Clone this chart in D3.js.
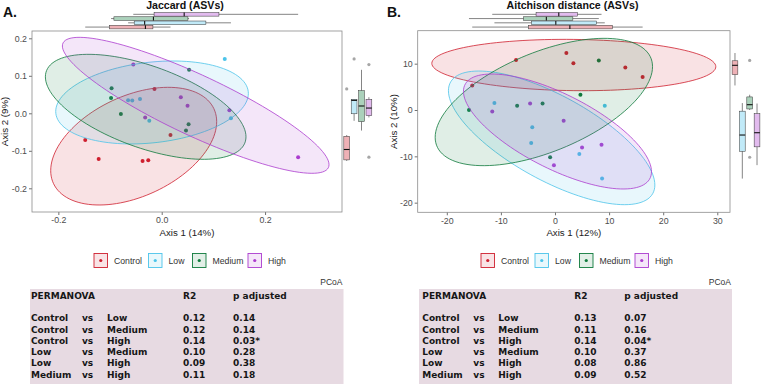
<!DOCTYPE html>
<html lang="en">
<head>
<meta charset="utf-8">
<script src="https://d3js.org/d3.v7.min.js"></script>
<style>
  body { margin: 0; background: #fff; }
  svg text { font-family: "Liberation Sans", Arial, sans-serif; }
  svg text.tbl { font-family: "DejaVu Sans", Verdana, sans-serif; font-weight: bold; }
</style>
</head>
<body>
<script>
const W = 762, H = 384;

// groups and colours
const groups = ["Control", "Low", "Medium", "High"];
const groupColors = ["#cf1f2f", "#4cc4ea", "#0f7a3c", "#ac3ccf"];

// Jaccard PCoA scores (Axis 1, Axis 2)
const jacGroup = ["Control","Control","Control","Control","Control","Control",
                  "Low","Low","Low","Low","Low","Low",
                  "Medium","Medium","Medium","Medium","Medium","Medium",
                  "High","High","High","High","High","High"];
const jacAxis1 = [-0.148, -0.122, -0.037, -0.026, -0.014, 0.017,
                   0.122, -0.065, -0.057, -0.042, -0.024, 0.134,
                  -0.097, -0.098, -0.079, 0.053, 0.052, 0.047,
                  -0.055, 0.037, 0.050, -0.032, 0.131, 0.264];
const jacAxis2 = [-0.071, -0.122, -0.127, -0.125, 0.065, -0.058,
                   0.145, 0.035, 0.034, 0.038, -0.020, -0.013,
                   0.067, 0.041, -0.002, 0.116, -0.029, -0.046,
                   0.130, 0.043, 0.020, -0.011, 0.008, -0.117];
// ellipses: centre, first and second conjugate half-axis (data units)
const jacEllipses = [
  [-0.0542, -0.0876, 0.1606,  0.0653, 0, -0.1427],
  [-0.0187,  0.0289, 0.1864,  0.0240, 0,  0.1080],
  [-0.0310,  0.0173, 0.1941, -0.0800, 0,  0.1149],
  [ 0.0658,  0.0213, 0.2580, -0.1582, 0,  0.0886]
];

// Aitchison PCoA scores
const aitGroup = jacGroup.slice();
const aitAxis1 = [-7.2, 2.1, 3.4, 13.0, 16.2, -15.3,
                  -11.2, -4.2, -4.4, 4.5, 9.2, 8.7,
                   8.1, 4.7, -7.0, -2.3, -0.9, -15.9,
                  -11.6, -4.6, 1.6, 5.0, 8.6, -0.2];
const aitAxis2 = [10.8, 12.3, 10.1, 9.2, 7.1, 5.3,
                   1.5, -3.7, -7.1, -9.5, 0.9, -14.8,
                  10.7, 3.3, 0.9, 1.4, -10.2, 0.0,
                  -0.3, 1.4, -2.3, -8.1, -7.5, -11.9];
const aitEllipses = [
  [ 3.48,  9.71, 26.25, -0.36, 0,  5.53],
  [-0.62, -6.01, 19.08, -10.18, 0, 10.22],
  [-2.06,  1.73, 20.09,  7.63, 0, 11.43],
  [ 0.46, -4.64, 17.38, -8.67, 0,  8.88]
];

// PERMANOVA tables
const pairFirst  = ["Control", "Control", "Control", "Low", "Low", "Medium"];
const pairSecond = ["Low", "Medium", "High", "Medium", "High", "High"];
const jacR2 = [0.12, 0.12, 0.14, 0.10, 0.09, 0.11];
const jacP  = [0.14, 0.14, 0.03, 0.28, 0.38, 0.18];
const aitR2 = [0.13, 0.11, 0.14, 0.10, 0.08, 0.09];
const aitP  = [0.07, 0.16, 0.04, 0.37, 0.86, 0.52];

const jacXTicks = [-0.2, 0.0, 0.2];
const jacYTicks = [-0.2, -0.1, 0.0, 0.1, 0.2];
const aitXTicks = [-20, -10, 0, 10, 20, 30];
const aitYTicks = [-20, -10, 0, 10];

const colorOf = d3.scaleOrdinal().domain(groups).range(groupColors);

const svg = d3.select("body").append("svg")
  .attr("width", W).attr("height", H)
  .style("background", "#fff");

function boxStats(vals) {
  const s = vals.slice().sort(d3.ascending);
  const q1 = d3.quantile(s, 0.25), med = d3.quantile(s, 0.5), q3 = d3.quantile(s, 0.75);
  const iqr = q3 - q1, lf = q1 - 1.5 * iqr, uf = q3 + 1.5 * iqr;
  return {
    q1, med, q3,
    lo: d3.min(s.filter(v => v >= lf)),
    hi: d3.max(s.filter(v => v <= uf)),
    out: s.filter(v => v < lf || v > uf)
  };
}

function drawPanel(p) {
  const g = svg.append("g");
  const x = d3.scaleLinear().domain(p.xDomain).range([p.left, p.right]);
  const y = d3.scaleLinear().domain(p.yDomain).range([p.bottom, p.top]);

  // panel label and title
  g.append("text").attr("x", p.labelX).attr("y", 17)
    .attr("font-size", 14).attr("font-weight", "bold").attr("fill", "#111")
    .text(p.label);
  g.append("text").attr("x", p.titleX).attr("y", 8.8)
    .attr("text-anchor", "middle").attr("font-size", 10.6)
    .attr("font-weight", "bold").attr("fill", "#111").text(p.title);

  // axes
  const fmt = d => d.toFixed(p.decimals);
  const xa = g.append("g").attr("transform", `translate(0,${p.bottom})`)
    .call(d3.axisBottom(x).tickValues(p.xTicks).tickSize(3).tickPadding(2).tickFormat(fmt));
  const ya = g.append("g").attr("transform", `translate(${p.left},0)`)
    .call(d3.axisLeft(y).tickValues(p.yTicks).tickSize(3).tickPadding(2).tickFormat(fmt));
  [xa, ya].forEach(a => {
    a.select(".domain").remove();
    a.selectAll("line").attr("stroke", "#333").attr("stroke-width", 0.7);
    a.selectAll("text").attr("fill", "#4d4d4d").attr("font-size", 8.8);
  });

  g.append("text").attr("x", (p.left + p.right) / 2).attr("y", 236)
    .attr("text-anchor", "middle").attr("font-size", 9.7).attr("fill", "#222")
    .text(p.xTitle);
  g.append("text")
    .attr("transform", `translate(${p.yTitleX},${(p.top + p.bottom) / 2}) rotate(-90)`)
    .attr("text-anchor", "middle").attr("font-size", 9.7).attr("fill", "#222")
    .text(p.yTitle);

  // points (below ellipses, as in the original)
  const pts = p.ax1.map((v, i) => ({ x: v, y: p.ax2[i], g: p.grp[i] }));
  g.append("g").selectAll("circle").data(pts).join("circle")
    .attr("cx", d => x(d.x)).attr("cy", d => y(d.y)).attr("r", 2)
    .attr("fill", d => colorOf(d.g));

  // ellipses
  const ts = d3.range(0, 120).map(i => i / 120 * 2 * Math.PI);
  const line = d3.line().curve(d3.curveLinearClosed);
  g.append("g").selectAll("path").data(p.ellipses).join("path")
    .attr("d", e => line(ts.map(t => [
      x(e[0] + e[2] * Math.cos(t) + e[4] * Math.sin(t)),
      y(e[1] + e[3] * Math.cos(t) + e[5] * Math.sin(t))
    ])))
    .attr("fill", (e, i) => groupColors[i]).attr("fill-opacity", 0.13)
    .attr("stroke", (e, i) => groupColors[i]).attr("stroke-width", 0.8);

  // panel border
  g.append("rect").attr("x", p.left).attr("y", p.top)
    .attr("width", p.right - p.left).attr("height", p.bottom - p.top)
    .attr("fill", "none").attr("stroke", "#8c8c8c").attr("stroke-width", 0.8);

  // marginal box plots: top (Axis 1)
  const topBand = d3.scaleBand().domain(groups.slice().reverse()).range([12.2, 29.2]);
  const bh = topBand.bandwidth() * 0.85;
  groups.forEach((grp, gi) => {
    const vals = pts.filter(d => d.g === grp).map(d => d.x);
    const s = boxStats(vals);
    const cy = topBand(grp) + topBand.bandwidth() / 2;
    const m = g.append("g");
    m.append("line").attr("x1", x(s.lo)).attr("x2", x(s.hi)).attr("y1", cy).attr("y2", cy)
      .attr("stroke", "#333").attr("stroke-width", 0.6);
    m.append("rect").attr("x", x(s.q1)).attr("y", cy - bh / 2)
      .attr("width", x(s.q3) - x(s.q1)).attr("height", bh)
      .attr("fill", "#fff");
    m.append("rect").attr("x", x(s.q1)).attr("y", cy - bh / 2)
      .attr("width", x(s.q3) - x(s.q1)).attr("height", bh)
      .attr("fill", groupColors[gi]).attr("fill-opacity", 0.35)
      .attr("stroke", "#333").attr("stroke-width", 0.5);
    m.append("line").attr("x1", x(s.med)).attr("x2", x(s.med))
      .attr("y1", cy - bh / 2).attr("y2", cy + bh / 2)
      .attr("stroke", "#111").attr("stroke-width", 1.1);
    m.selectAll("circle").data(s.out).join("circle")
      .attr("cx", d => x(d)).attr("cy", cy).attr("r", 1.6).attr("fill", "#a6a6a6");
  });

  // marginal box plots: right (Axis 2)
  const rightBand = d3.scaleBand().domain(groups).range(p.rightRange);
  const bw = rightBand.bandwidth() * 0.78;
  groups.forEach((grp, gi) => {
    const vals = pts.filter(d => d.g === grp).map(d => d.y);
    const s = boxStats(vals);
    const cx = rightBand(grp) + rightBand.bandwidth() / 2;
    const m = g.append("g");
    m.append("line").attr("x1", cx).attr("x2", cx).attr("y1", y(s.lo)).attr("y2", y(s.hi))
      .attr("stroke", "#333").attr("stroke-width", 0.6);
    m.append("rect").attr("x", cx - bw / 2).attr("y", y(s.q3))
      .attr("width", bw).attr("height", y(s.q1) - y(s.q3))
      .attr("fill", "#fff");
    m.append("rect").attr("x", cx - bw / 2).attr("y", y(s.q3))
      .attr("width", bw).attr("height", y(s.q1) - y(s.q3))
      .attr("fill", groupColors[gi]).attr("fill-opacity", 0.35)
      .attr("stroke", "#333").attr("stroke-width", 0.5);
    m.append("line").attr("x1", cx - bw / 2).attr("x2", cx + bw / 2)
      .attr("y1", y(s.med)).attr("y2", y(s.med))
      .attr("stroke", "#111").attr("stroke-width", 1.1);
    m.selectAll("circle").data(s.out).join("circle")
      .attr("cx", cx).attr("cy", d => y(d)).attr("r", 1.6).attr("fill", "#a6a6a6");
  });

  // legend
  const lg = g.append("g");
  groups.forEach((grp, gi) => {
    const kx = p.legendX[gi];
    lg.append("rect").attr("x", kx).attr("y", 253.5).attr("width", 13.5).attr("height", 14)
      .attr("fill", groupColors[gi]).attr("fill-opacity", 0.12)
      .attr("stroke", groupColors[gi]).attr("stroke-width", 0.9);
    lg.append("circle").attr("cx", kx + 6.75).attr("cy", 260.5).attr("r", 1.6)
      .attr("fill", groupColors[gi]);
    lg.append("text").attr("x", kx + 20).attr("y", 263.6)
      .attr("font-size", 8.7).attr("fill", "#333").text(grp);
  });

  // PERMANOVA table
  g.append("text").attr("x", p.tableRight).attr("y", 285).attr("text-anchor", "end")
    .attr("font-size", 8.5).attr("fill", "#333").text("PCoA");
  g.append("rect").attr("x", p.tableLeft).attr("y", 289)
    .attr("width", p.tableRight + 1 - p.tableLeft).attr("height", H - 289)
    .attr("fill", "#e7dae2");
  const tg = g.append("g");
  const cols = [0, 51, 76, 152, 202].map(c => p.textX + c);
  const cell = (t, cx, cy) => tg.append("text").attr("class", "tbl")
    .attr("x", cx).attr("y", cy).attr("font-size", 9).attr("fill", "#161616").text(t);
  cell("PERMANOVA", cols[0], 298.5);
  cell("R2", cols[3], 298.5);
  cell("p adjusted", cols[4], 298.5);
  pairFirst.forEach((a, i) => {
    const yy = 321.2 + i * 11.3;
    const row = [a, "vs", pairSecond[i], p.r2[i].toFixed(2),
                 p.pval[i].toFixed(2) + (p.pval[i] < 0.05 ? "*" : "")];
    row.forEach((t, c) => cell(t, cols[c], yy));
  });
}

drawPanel({
  label: "A.", labelX: 3, title: "Jaccard (ASVs)", titleX: 185,
  left: 32, right: 342, top: 31, bottom: 212,
  xDomain: [-0.2510, 0.3489], yDomain: [-0.2632, 0.2195],
  xTicks: jacXTicks, yTicks: jacYTicks, decimals: 1,
  xTitle: "Axis 1 (14%)", yTitle: "Axis 2 (9%)", yTitleX: 8,
  grp: jacGroup, ax1: jacAxis1, ax2: jacAxis2, ellipses: jacEllipses,
  rightRange: [343, 372.6],
  legendX: [94, 148.5, 192.5, 248],
  tableLeft: 30, tableRight: 342.5, textX: 31,
  r2: jacR2, pval: jacP
});

drawPanel({
  label: "B.", labelX: 387, title: "Aitchison distance (ASVs)", titleX: 572.5,
  left: 417.7, right: 730, top: 30.7, bottom: 212.3,
  xDomain: [-25.38, 32.35], yDomain: [-22.08, 17.12],
  xTicks: aitXTicks, yTicks: aitYTicks, decimals: 0,
  xTitle: "Axis 1 (12%)", yTitle: "Axis 2 (10%)", yTitleX: 397,
  grp: aitGroup, ax1: aitAxis1, ax2: aitAxis2, ellipses: aitEllipses,
  rightRange: [731.3, 760.7],
  legendX: [481, 535, 579.5, 635],
  tableLeft: 419, tableRight: 731, textX: 422.3,
  r2: aitR2, pval: aitP
});
</script>
</body>
</html>
